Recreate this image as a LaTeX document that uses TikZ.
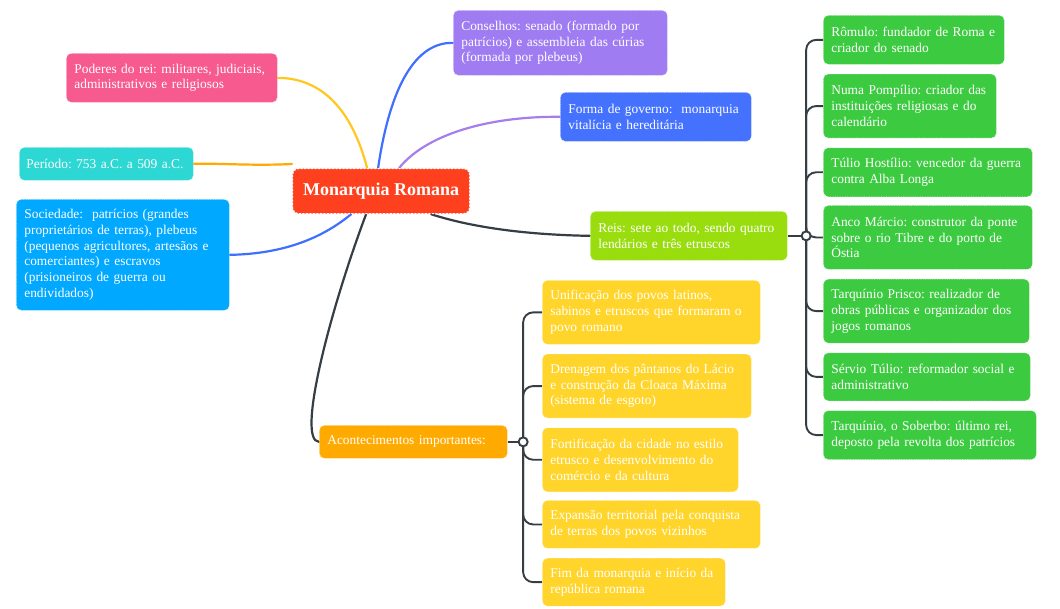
\documentclass[tikz,border=0pt]{standalone}
\usepackage{fontspec}
\setmainfont{Liberation Serif}
\usetikzlibrary{positioning}
\usetikzlibrary{backgrounds}
\frenchspacing
\definecolor{rosa}{HTML}{F75A8E}
\definecolor{turquesa}{HTML}{2DD8D4}
\definecolor{celeste}{HTML}{00A9FF}
\definecolor{vermelho}{HTML}{FF401E}
\definecolor{roxo}{HTML}{A07CF2}
\definecolor{azul}{HTML}{4472FF}
\definecolor{lima}{HTML}{99DD0F}
\definecolor{verde}{HTML}{3CCB40}
\definecolor{laranja}{HTML}{FFAA00}
\definecolor{amarelo}{HTML}{FFD52B}
\definecolor{escuro}{HTML}{353D45}
\definecolor{ouro}{HTML}{FFC81E}
\definecolor{azullinha}{HTML}{3F6FFF}
\definecolor{roxolinha}{HTML}{A67EEA}
\tikzset{%
  topic/.style={anchor=north west, rounded corners=5pt, fill=#1, draw=white,
    densely dotted, draw opacity=0.6, line width=0.7pt, text=white, align=left,
    inner xsep=8pt, inner ysep=2pt, font=\fontsize{13.4}{15.7}\selectfont},
  one/.style={minimum height=33pt},
  two/.style={minimum height=49pt},
  three/.style={minimum height=64pt},
  myedge/.style={line width=2.2pt, line cap=round},
  subedge/.style={line width=1.9pt, draw=escuro, rounded corners=10pt},
  hub/.style={circle, draw=escuro, fill=white, line width=1.9pt, inner sep=0pt, minimum size=9pt}
}
\begin{document}
\begin{tikzpicture}[x=1pt, y=-1pt]
  \useasboundingbox (0,0) rectangle (1060,608);
  % centre
  \node[anchor=north west, rounded corners=6pt, fill=vermelho, draw=white,
    dash pattern=on 2pt off 1.5pt, line width=1.2pt, text=white,
    minimum width=177pt, minimum height=45pt,
    font=\fontsize{18}{22}\selectfont\bfseries] (mr) at (292,168) {Monarquia Romana};
  % left side
  \node[topic=rosa, two, text width=195pt] (pod) at (66,53) {Poderes do rei: militares, judiciais,\\administrativos e religiosos};
  \node[topic=turquesa, one, inner xsep=7pt, text width=160pt] (per) at (19,147) {Período: 753 a.C. a 509 a.C.};
  \node[topic=celeste, minimum height=111pt, text width=197pt] (soc) at (16,199) {Sociedade:\ \ patrícios (grandes\\proprietários de terras), plebeus\\(pequenos agricultores, artesãos e\\comerciantes) e escravos\\(prisioneiros de guerra ou\\endividados)};
  % top
  \node[topic=roxo, minimum height=65pt, text width=198pt] (con) at (453,10) {Conselhos: senado (formado por\\patrícios) e assembleia das cúrias\\(formada por plebeus)};
  \node[topic=azul, two, text width=175pt] (for) at (560,92) {Forma de governo:\ \ monarquia\\vitalícia e hereditária};
  % reis
  \node[topic=lima, two, text width=181pt] (reis) at (590,211) {Reis: sete ao todo, sendo quatro\\lendários e três etruscos};
  \node[hub, right=13pt of reis] (rhub) {};
  \node[topic=verde, two, text width=165pt] (k1) at (823,15) {Rômulo: fundador de Roma e\\criador do senado};
  \node[topic=verde, three, text width=157pt, below=9pt of k1.south west, anchor=north west] (k2) {Numa Pompílio: criador das\\instituições religiosas e do\\calendário};
  \node[topic=verde, two, text width=193pt, below=9pt of k2.south west, anchor=north west] (k3) {Túlio Hostílio: vencedor da guerra\\contra Alba Longa};
  \node[topic=verde, three, text width=193pt, below=8pt of k3.south west, anchor=north west] (k4) {Anco Márcio: construtor da ponte\\sobre o rio Tibre e do porto de\\Óstia};
  \node[topic=verde, three, text width=190pt, below=9pt of k4.south west, anchor=north west] (k5) {Tarquínio Prisco: realizador de\\obras públicas e organizador dos\\jogos romanos};
  \node[topic=verde, minimum height=48pt, text width=191pt, below=9pt of k5.south west, anchor=north west] (k6) {Sérvio Túlio: reformador social e\\administrativo};
  \node[topic=verde, two, text width=197pt, below=9pt of k6.south west, anchor=north west] (k7) {Tarquínio, o Soberbo: último rei,\\deposto pela revolta dos patrícios};
  % acontecimentos
  \node[topic=laranja, one, text width=172pt] (aco) at (319,425) {Acontecimentos importantes:};
  \node[hub, right=10pt of aco] (ahub) {};
  \node[topic=amarelo, three, text width=202pt] (e1) at (542,280) {Unificação dos povos latinos,\\sabinos e etruscos que formaram o\\povo romano};
  \node[topic=amarelo, three, text width=193pt, below=9pt of e1.south west, anchor=north west] (e2) {Drenagem dos pântanos do Lácio\\e construção da Cloaca Máxima\\(sistema de esgoto)};
  \node[topic=amarelo, three, text width=180pt, below=9pt of e2.south west, anchor=north west] (e3) {Fortificação da cidade no estilo\\etrusco e desenvolvimento do\\comércio e da cultura};
  \node[topic=amarelo, minimum height=48pt, text width=202pt, below=8pt of e3.south west, anchor=north west] (e4) {Expansão territorial pela conquista\\de terras dos povos vizinhos};
  \node[topic=amarelo, minimum height=48pt, text width=167pt, below=9pt of e4.south west, anchor=north west] (e5) {Fim da monarquia e início da\\república romana};
  \begin{pgfonlayer}{background}
    \fill[white] (0,0) rectangle (1060,608);
    \draw[myedge, ouro] ([xshift=-14pt]mr.north) .. controls (352,110) and (322,78) .. (pod.east);
    \draw[myedge, laranja] ([yshift=4pt]mr.north west) .. controls (250,166) and (220,163) .. (per.east);
    \draw[myedge, azullinha] ([xshift=-30pt]mr.south) .. controls (320,240) and (280,254) .. (soc.east);
    \draw[myedge, azullinha] ([xshift=-3pt]mr.north) .. controls (388,100) and (410,42) .. (con.west);
    \draw[myedge, roxolinha] ([xshift=18pt]mr.north) .. controls (430,130) and (500,116) .. (for.west);
    \draw[myedge, escuro] ([xshift=50pt]mr.south) .. controls (480,230) and (540,235) .. (reis.west);
    \draw[myedge, escuro] ([xshift=-15pt]mr.south) .. controls (330,310) and (296,441) .. (aco.west);
    \draw[subedge] (reis.east) -- (rhub);
    \foreach \k in {k1,k2,k3,k4,k5,k6,k7}
      \draw[subedge] (rhub.center) |- (\k.west);
    \draw[subedge] (aco.east) -- (ahub);
    \foreach \e in {e1,e2,e3,e4,e5}
      \draw[subedge] (ahub.center) |- (\e.west);
  \end{pgfonlayer}
\end{tikzpicture}
\end{document}
